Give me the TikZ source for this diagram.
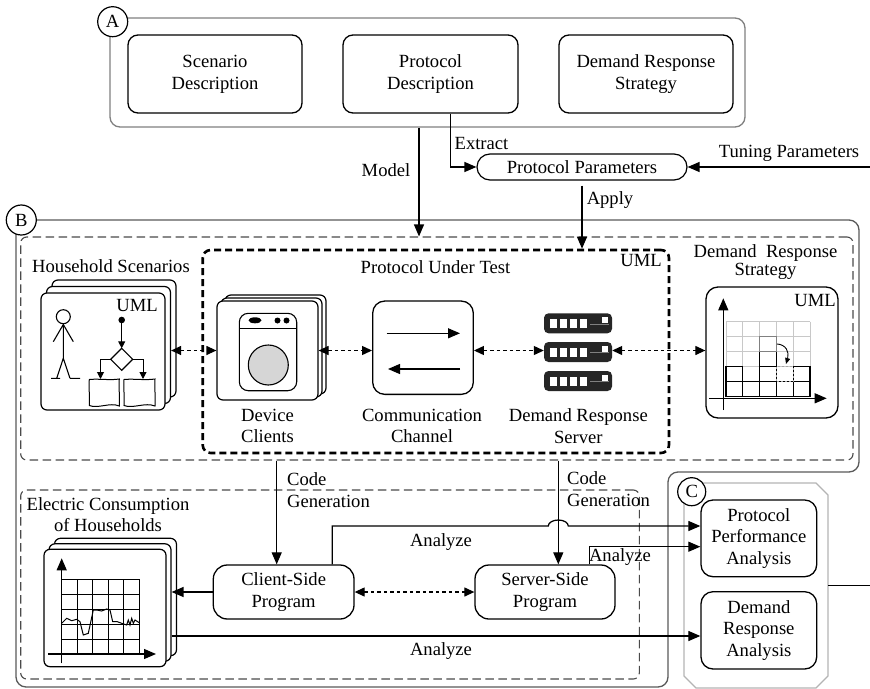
\documentclass[tikz,border=0pt]{standalone}
\usepackage{fontspec}
\setmainfont{Liberation Serif}
\usetikzlibrary{arrows.meta,calc}
\newcommand\dgfont{\fontsize{18.6pt}{21.7pt}\selectfont}
\definecolor{frameA}{HTML}{808080}
\definecolor{frameB}{HTML}{5A5A5A}
\definecolor{frameC}{HTML}{B4B4B4}
\definecolor{dashgray}{HTML}{4A4A4A}
\definecolor{drumgray}{HTML}{D6D6D6}
\definecolor{gridgray}{HTML}{C8C8C8}
\definecolor{rackblack}{HTML}{262626}

\tikzset{
  every node/.style={font=\dgfont, inner sep=0pt},
  box/.style={draw, line width=1.3pt, rounded corners=10pt, align=center},
  card/.style={draw, line width=1.2pt, rounded corners=6pt, fill=white},
  arr/.style={line width=1.25pt, -{Triangle[length=12pt,width=10pt]}},
  smallarr/.style={line width=1pt, -{Triangle[length=7pt,width=7pt]}},
  dblarr/.style={line width=1.2pt, dash pattern=on 3.5pt off 3pt,
    {Triangle[length=10pt,width=9pt]}-{Triangle[length=10pt,width=9pt]}},
  tag/.style={circle, draw, line width=1.2pt, fill=white, minimum size=30pt},
  lbl/.style={align=center},
  thindash/.style={draw=dashgray, line width=1.1pt, dash pattern=on 8.5pt off 4.5pt, rounded corners=6pt},
}

\begin{document}
\begin{tikzpicture}[x=1pt,y=-1pt]
\useasboundingbox (0,0) rectangle (870,688);
\fill[white] (0,0) rectangle (870,688);

% ---------- Group A: descriptions ----------
\node[draw=frameA, line width=1.3pt, rounded corners=10pt,
      minimum width=635pt, minimum height=109pt] (Abox) at (427.5,72.5) {};
\node[tag] (tagA) at (112.7,21.7) {A};
\node[box, minimum width=174pt, minimum height=78pt] (scen)  at (215,74)   {Scenario\\Description};
\node[box, minimum width=175pt, minimum height=78pt] (pdesc) at (430.5,74) {Protocol\\Description};
\node[box, minimum width=174pt, minimum height=78pt] (drs)   at (646,74)   {Demand Response\\Strategy};

% ---------- Protocol parameters ----------
\node[draw, line width=1.2pt, rounded corners=13pt, minimum width=210pt, minimum height=26pt]
  (pp) at (582,167) {Protocol Parameters};
\coordinate (tin) at (870,167);
\coordinate (ex) at (450.7,0);
\coordinate (mx) at (419,0);

% ---------- Group B: model ----------
\draw[frameB, line width=1.3pt, rounded corners=10pt]
  (400,220) -- (859,220) -- (859,472) -- (668,472) -- (668,687) -- (16,687) -- (16,220) -- cycle;
\node[thindash, minimum width=832.3pt, minimum height=223pt] (outer) at (436.85,348.5) {};
\node[draw, line width=2.6pt, dash pattern=on 7pt off 4pt, rounded corners=8pt,
      minimum width=466.3pt, minimum height=203pt] (put) at (435.85,351.5) {};
\node[tag] (tagB) at (21.3,220) {B};

\node (hhl)  at (111,266)   {Household Scenarios};
\node (putl) at (435.5,266.7) {Protocol Under Test};
\node (putu) at (641,260)   {UML};
\node[lbl, font=\fontsize{18.6pt}{14.5pt}\selectfont] (strl) at (765.5,262) {Demand\ \ Response\\Strategy};

% household scenario cards
\node[card, minimum width=124pt, minimum height=117pt] (hh3) at (114,338.5) {};
\node[card, minimum width=124pt, minimum height=117pt] (hh2) at (108.5,345) {};
\node[card, minimum width=124pt, minimum height=117pt] (hh)  at (103,351.5) {};
\node (hhu) at (137,305) {UML};
% stick figure
\draw[line width=1.1pt] (63.3,316.7) circle[radius=7pt];
\draw[line width=1.1pt] (63.3,323.7) -- (63.3,358.3)
  (53.3,341.7) -- (63.3,324.5) -- (73.3,341.7)
  (56.7,378.3) -- (63.3,358.3) -- (70,378.3)
  (51,378.3) -- (60,378.3) (70,378.3) -- (80,378.3);
% activity sketch
\fill (121.7,320) circle[radius=3.3pt];
\draw[smallarr] (121.7,322) -- (121.7,348.3);
\draw[line width=1.1pt, fill=white] (121.7,348.3) -- (132.7,359.3) -- (121.7,370.3) -- (110.7,359.3) -- cycle;
\draw[smallarr] (110.7,359.3) -- (100.5,359.3) -- (100.5,379);
\draw[smallarr] (132.7,359.3) -- (143,359.3) -- (143,379);
\draw[line width=1pt] (89.3,379.5) .. controls (99,378.5) and (110,380.5) .. (119.3,379)
  .. controls (118.5,388) and (120,396) .. (119.3,406)
  .. controls (110,402) and (98,409) .. (89.3,405.5)
  .. controls (90,396) and (88.5,388) .. cycle;
\draw[line width=1pt] (124,379.5) .. controls (134,378.5) and (145,380.5) .. (155,379)
  .. controls (154.2,388) and (155.8,396) .. (155,406)
  .. controls (145,402) and (133,409) .. (124,405.5)
  .. controls (124.7,396) and (123.3,388) .. cycle;

% device client cards
\node[card, minimum width=101pt, minimum height=99pt] (dev3) at (275.5,344.5) {};
\node[card, minimum width=101pt, minimum height=99pt] (dev2) at (271.5,347.5) {};
\node[card, minimum width=101pt, minimum height=99pt] (dev)  at (267.5,350.5) {};
% washing machine
\draw[line width=1.1pt, rounded corners=9pt] (239.3,313.3) rectangle (296.7,390.7);
\draw[line width=1.1pt] (239.3,328.3) -- (296.7,328.3);
\fill (255,320.3) ellipse[x radius=6.5pt, y radius=3pt];
\fill (277.5,320.5) circle[radius=3pt] (286.5,320.5) circle[radius=3pt];
\draw[line width=1.1pt, fill=drumgray] (268.3,365) circle[radius=20pt];

% communication channel
\node[box, rounded corners=12pt, minimum width=100.6pt, minimum height=93.3pt] (comm) at (423,347.7) {};
\draw[arr] (386.7,333.3) -- (460,333.3);
\draw[arr] (460,369) -- (388,369);

% demand response server rack
\node[minimum width=68pt, minimum height=78pt] (srv) at (578,352) {};
\foreach \t in {313.3,342,371} {
  \fill[rackblack, rounded corners=4.5pt] (544,\t) rectangle (612,\t+20);
  \foreach \sx in {550,560,570,580}
    \fill[white] (\sx,\t+5.5) rectangle (\sx+7,\t+14.5);
  \draw[gray, line width=0.6pt] (590,\t+10.5) -- (609,\t+10.5);
  \fill[white] (601.5,\t+4) rectangle (608,\t+9.5);
}

% demand response strategy chart
\node[box, rounded corners=12pt, minimum width=132pt, minimum height=131pt] (strat) at (772,352.5) {};
\node (stru) at (815,300) {UML};
\foreach \i in {0,...,5} {
  \draw[gridgray, line width=0.8pt] (726+16.8*\i,321.7) -- (726+16.8*\i,396.7);
  \draw[gridgray, line width=0.8pt] (726,321.7+15*\i) -- (810,321.7+15*\i);
}
\foreach \c/\r in {1/1,2/1,3/1,4/1,5/1,1/2,3/2,5/2,3/3}
  \draw[line width=1.1pt] (726+16.8*\c-16.8,396.7-15*\r) rectangle (726+16.8*\c,396.7-15*\r+15);
\draw[gray, line width=1.1pt] (759.6,336.7) rectangle (776.4,351.7);
\draw[gray!70, line width=0.9pt, dash pattern=on 2pt off 2pt] (776.4,366.7) rectangle (793.2,381.7);
\draw[arr] (723.3,410) -- (723.3,298.3);
\draw[arr] (709.3,398.3) -- (826.7,398.3);
\draw[line width=0.9pt, -{Triangle[length=6pt,width=5pt]}] (777,344) .. controls (786,344.5) and (789.5,352) .. (786,364);

% labels under the protocol parts
\node[lbl] (devl)  at (267.5,426) {Device\\Clients};
\node[lbl] (comml) at (422,426)   {Communication\\Channel};
\node[lbl] (srvl)  at (578.3,426) {Demand Response\\Server};

% links inside the model
\draw[dblarr] (hh2.east |- dev.west) -- (dev.west);
\draw[dblarr] (dev.east) -- (dev.east -| comm.west);
\draw[dblarr] (comm.east |- dev.east) -- (srv.west |- dev.east);
\draw[dblarr] (srv.east |- dev.east) -- (strat.west |- dev.east);

% connectors from A to B
\draw[arr] (mx |- Abox.south) -- (mx |- outer.north);
\node (mdl) at (386,170) {Model};
\draw[arr] (ex |- pdesc.south) |- (pp.west);
\node (exl) at (481.5,143) {Extract};
\draw[arr] (tin) -- (pp.east);
\node (tunl) at (789,153) {Tuning Parameters};
\draw[arr, shorten <=5pt] (pp.south) -- (pp.south |- put.north);
\node (apl) at (610,200) {Apply};

% ---------- generated programs ----------
\node[thindash, minimum width=618.6pt, minimum height=189pt] (elec) at (330,584.5) {};
\node[lbl] (elecl) at (108,514.7) {Electric Consumption\\of Households};

\node[card, minimum width=122pt, minimum height=117.4pt] (es3) at (115.5,597) {};
\node[card, minimum width=122pt, minimum height=117.4pt] (es2) at (110,602.5) {};
\node[card, minimum width=122pt, minimum height=117.4pt] (es)  at (105,608) {};
\foreach \gx in {61.7,77.2,92.7,108.2,123.7,139.2}
  \draw[line width=0.9pt] (\gx,579) -- (\gx,654);
\foreach \gy in {579,594,609,624,639}
  \draw[line width=0.9pt] (61.7,\gy) -- (139.2,\gy);
\draw[arr] (61.7,663.3) -- (61.7,558.3);
\draw[arr] (48.3,654) -- (156,654);
\draw[line width=1pt] plot coordinates {(61.7,623.3) (66.7,618.3) (71.7,620.7) (76.7,619.3) (80,621.7)
  (83.3,635) (88.3,633.3) (93.3,610) (96.7,610) (101.7,611) (106.7,609) (110,610) (112.7,621.7)
  (117.3,621.7) (121.7,623.3) (126.7,625) (128.3,620) (130,625) (131.7,618.3) (133.3,623.3)
  (135,620) (139.3,622.7)};

\node[box, rounded corners=14pt, minimum width=140.7pt, minimum height=54pt] (csp) at (283.65,592) {Client-Side\\Program};
\node[box, rounded corners=14pt, minimum width=140pt, minimum height=54pt] (ssp) at (545,592) {Server-Side\\Program};

\coordinate (cg1) at (276.7,0);
\coordinate (cg2) at (558.3,0);
\draw[arr] (cg1 |- outer.south) -- (cg1 |- csp.north);
\draw[arr] (cg2 |- outer.south) -- (cg2 |- ssp.north);
\node[align=left, anchor=west] (cgl1) at (287,490) {Code\\Generation};
\node[align=left, anchor=west] (cgl2) at (567,489) {Code\\Generation};

\draw[arr] (csp.west) -- (es2.east |- csp.west);
\draw[dblarr] (csp.east) -- (ssp.west);

% ---------- Group C: analysis ----------
\node[minimum width=144pt, minimum height=205pt] (Cbox) at (756,585.5) {};
\draw[frameC, line width=1.3pt] (684,495) -- (696,483) -- (816,483) -- (828,495)
  -- (828,676) -- (816,688) -- (696,688) -- (684,676) -- cycle;
\node[tag, minimum size=28pt] (tagC) at (691.7,491.7) {C};
\node[box, rounded corners=12pt, minimum width=115.7pt, minimum height=76.7pt] (ppa) at (758.85,538.35) {Protocol\\Performance\\Analysis};
\node[box, rounded corners=12pt, minimum width=115.7pt, minimum height=77.3pt] (dra) at (758.85,630.35) {Demand\\Response\\Analysis};
\draw[line width=1.2pt] (Cbox.east) -- (Cbox.east -| tin);

% analysis links
\coordinate (an1) at (332.3,526);
\coordinate (an2) at (589.3,546.7);
\coordinate (an3) at (0,636);
\draw[arr] (csp.north -| an1) -- (an1) -- (548.3,526)
  arc[start angle=180, end angle=0, x radius=10pt, y radius=6pt] -- (ppa.west |- an1);
\draw[arr] (ssp.north -| an2) -- (an2) -- (ppa.west |- an2);
\draw[arr] (es2.east |- an3) -- (dra.west |- an3);
\node (anl1) at (441,542) {Analyze};
\node (anl2) at (620,557) {Analyze};
\node (anl3) at (441,651) {Analyze};
\end{tikzpicture}
\end{document}
